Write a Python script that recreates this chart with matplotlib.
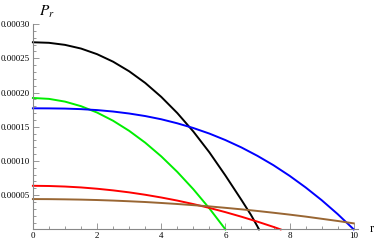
import matplotlib
matplotlib.use("Agg")
import matplotlib.pyplot as plt
from matplotlib.ticker import MultipleLocator, FuncFormatter

plt.rcParams["font.family"] = ["Liberation Serif", "DejaVu Serif"]
plt.rcParams["mathtext.fontset"] = "stix"

# values, P_r against r
r_black = [0.0, 0.5, 1.0, 1.5, 2.0, 2.5, 3.0, 3.5, 4.0, 4.5, 5.0, 5.5, 6.0, 6.5, 6.8, 7.05]
p_black = [0.0002734, 0.0002726, 0.0002696, 0.0002642, 0.000256, 0.000245, 0.000231,
           0.000214, 0.0001936, 0.000170, 0.000143, 0.0001126, 0.0000787, 0.0000430,
           0.0000209, 0.0]

r_green = [0.0, 0.5, 1.0, 1.5, 2.0, 2.5, 3.0, 3.5, 4.0, 4.5, 5.0, 5.5, 6.0]
p_green = [0.000192, 0.0001907, 0.0001867, 0.000180, 0.0001707, 0.0001587, 0.000144,
           0.0001267, 0.0001067, 0.000084, 0.0000587, 0.0000307, 0.0]

r_blue = [0.0, 0.5, 1.0, 1.5, 2.0, 2.5, 3.0, 3.5, 4.0, 4.5, 5.0, 5.5, 6.0, 6.5, 7.0,
          7.5, 8.0, 8.5, 9.0, 9.5, 10.0]
p_blue = [0.0001769, 0.0001768, 0.0001765, 0.0001757, 0.0001743, 0.0001722, 0.0001693,
          0.0001656, 0.0001609, 0.000155, 0.0001481, 0.000140, 0.0001305, 0.0001197,
          0.0001074, 0.0000937, 0.0000783, 0.0000613, 0.0000427, 0.0000223, 0.0]

r_red = [0.0, 0.5, 1.0, 1.5, 2.0, 2.5, 3.0, 3.5, 4.0, 4.5, 5.0, 5.5, 6.0, 6.5, 7.0, 7.5, 7.72]
p_red = [0.0000637, 0.0000634, 0.0000626, 0.0000613, 0.0000594, 0.000057, 0.0000541,
         0.0000506, 0.0000466, 0.0000421, 0.000037, 0.0000314, 0.0000252, 0.0000185,
         0.0000113, 0.0000036, 0.0]

r_brown = [0.0, 0.5, 1.0, 1.5, 2.0, 2.5, 3.0, 3.5, 4.0, 4.5, 5.0, 5.5, 6.0, 6.5, 7.0,
           7.5, 8.0, 8.5, 9.0, 9.5, 10.0]
p_brown = [0.0000443, 0.0000442, 0.0000439, 0.0000435, 0.0000429, 0.0000421, 0.0000411,
           0.000040, 0.0000386, 0.0000371, 0.0000354, 0.0000336, 0.0000315, 0.0000293,
           0.0000269, 0.0000243, 0.0000216, 0.0000187, 0.0000155, 0.0000123, 0.0000088]

series = [
    (r_black, p_black, "black"),
    (r_green, p_green, "#00ee00"),
    (r_blue, p_blue, "#0000ff"),
    (r_red, p_red, "#ff0000"),
    (r_brown, p_brown, "#996633"),
]

fig = plt.figure(figsize=(3.74, 2.43), dpi=100)
ax = fig.add_axes([0.088, 0.056, 0.869, 0.845])

for r, p, c in series:
    ax.plot(r, p, color=c, lw=1.4, solid_joinstyle="round", clip_on=False)

ax.set_xlim(0, 10.13)
ax.set_ylim(0, 0.0003)

for s in ["top", "right"]:
    ax.spines[s].set_visible(False)
for s in ["left", "bottom"]:
    ax.spines[s].set_color("#888888")
    ax.spines[s].set_linewidth(0.8)

ax.xaxis.set_major_locator(MultipleLocator(2))
ax.xaxis.set_minor_locator(MultipleLocator(0.5))
ax.yaxis.set_major_locator(MultipleLocator(0.00005))
ax.yaxis.set_minor_locator(MultipleLocator(0.00001))
ax.yaxis.set_major_formatter(FuncFormatter(lambda v, pos: "" if abs(v) < 1e-9 else "%.5f" % v))

ax.tick_params(which="both", direction="in", color="#888888", width=0.6,
               labelsize=6.5, pad=2)
ax.tick_params(which="major", length=4)
ax.tick_params(which="minor", length=2)

ax.text(10.55, 0.0, "r", fontsize=9, va="center", ha="center")
fig.text(0.125, 0.95, r"$P_r$", fontsize=11, va="center", ha="center")

fig.savefig("out.png", dpi=100)
